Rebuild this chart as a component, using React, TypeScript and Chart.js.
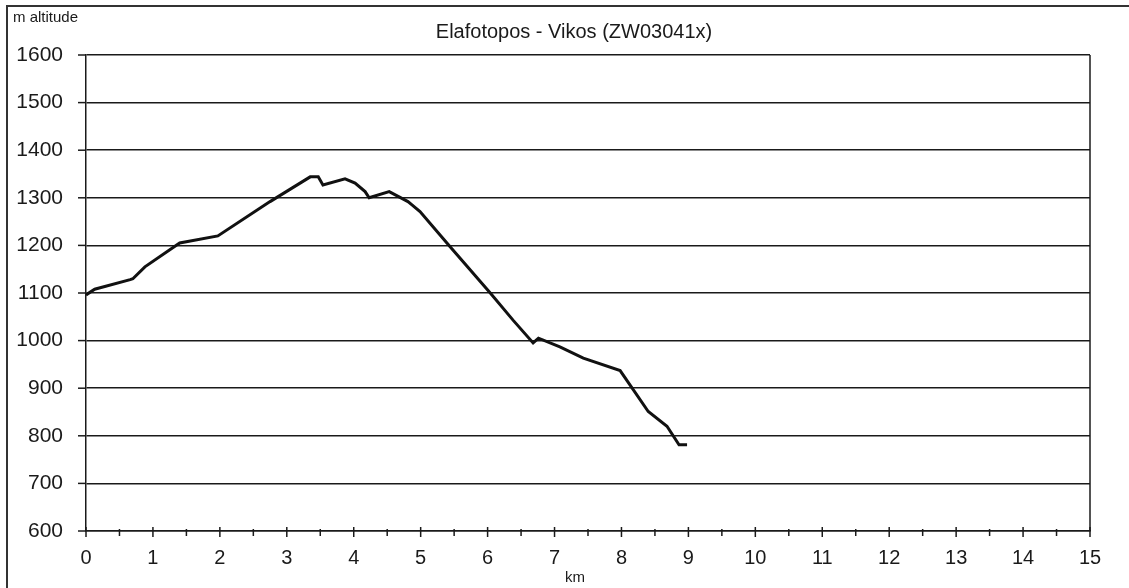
import React, { useEffect, useRef } from "react";
import { Chart, registerables } from "chart.js";

Chart.register(...registerables);

const distanceKm = [0, 0.13, 0.66, 0.7, 0.88, 1.4, 1.97, 2.75, 3.35, 3.47, 3.54, 3.87, 4.02, 4.17, 4.23, 4.53, 4.81, 4.87, 4.99, 5.44, 6.04, 6.38, 6.68, 6.76, 7.08, 7.43, 7.98, 8.4, 8.68, 8.86, 8.98];
const altitudeM = [1096, 1108, 1128, 1130, 1155, 1205, 1220, 1292, 1344, 1344, 1327, 1340, 1331, 1313, 1300, 1313, 1292, 1285, 1271, 1197, 1100, 1043, 995, 1005, 987, 963, 937, 851, 820, 781, 781];
const xTickValues = [0, 1, 2, 3, 4, 5, 6, 7, 8, 9, 10, 11, 12, 13, 14, 15];
const yTickValues = [600, 700, 800, 900, 1000, 1100, 1200, 1300, 1400, 1500, 1600];
const chartTitle = "Elafotopos - Vikos (ZW03041x)";
const yAxisTitle = "m altitude";
const xAxisTitle = "km";

const FONT = '"Liberation Sans", Arial, sans-serif';
const INK = "#1a1a1a";

export default function App() {
  const ref = useRef<HTMLCanvasElement>(null);

  useEffect(() => {
    document.body.style.margin = "0";
    const canvas = ref.current;
    if (!canvas) return;

    const decor = {
      id: "decor",
      beforeDraw(chart: any) {
        const { ctx } = chart;
        ctx.save();
        ctx.fillStyle = "#ffffff";
        ctx.fillRect(0, 0, chart.width, chart.height);
        ctx.restore();
      },
      afterDraw(chart: any) {
        const { ctx, chartArea } = chart;
        const x = chart.scales.x;
        const y = chart.scales.y;
        ctx.save();
        // outer frame
        ctx.strokeStyle = "#333";
        ctx.lineWidth = 2;
        ctx.beginPath();
        ctx.moveTo(7, chart.height);
        ctx.lineTo(7, 6);
        ctx.lineTo(chart.width, 6);
        ctx.stroke();
        // right border of plot
        ctx.strokeStyle = INK;
        ctx.lineWidth = 1.5;
        ctx.beginPath();
        ctx.moveTo(chartArea.right, chartArea.top);
        ctx.lineTo(chartArea.right, chartArea.bottom);
        ctx.stroke();
        // y ticks
        ctx.lineWidth = 1.5;
        yTickValues.forEach((v) => {
          const py = y.getPixelForValue(v);
          ctx.beginPath();
          ctx.moveTo(chartArea.left - 8, py);
          ctx.lineTo(chartArea.left, py);
          ctx.stroke();
        });
        // x ticks, major and minor crossing the axis
        const b = chartArea.bottom;
        for (let v = 0; v <= 15; v += 0.5) {
          const px = x.getPixelForValue(v);
          const major = Number.isInteger(v);
          ctx.beginPath();
          ctx.moveTo(px, major ? b - 4 : b - 2);
          ctx.lineTo(px, major ? b + 6 : b + 5);
          ctx.stroke();
        }
        // texts
        ctx.fillStyle = INK;
        ctx.textBaseline = "middle";
        ctx.textAlign = "center";
        ctx.font = `20px ${FONT}`;
        ctx.fillText(chartTitle, 574, 32);
        ctx.font = `15px ${FONT}`;
        ctx.textAlign = "left";
        ctx.fillText(yAxisTitle, 13, 18);
        ctx.textAlign = "center";
        ctx.fillText(xAxisTitle, 575, 578);
        ctx.restore();
      },
    };

    const chart = new Chart(canvas, {
      type: "line",
      data: {
        datasets: [
          {
            data: distanceKm.map((d, i) => ({ x: d, y: altitudeM[i] })),
            borderColor: "#111",
            borderWidth: 3,
            pointRadius: 0,
            tension: 0,
            fill: false,
          },
        ],
      },
      options: {
        responsive: false,
        animation: false,
        layout: { padding: { left: 0, top: 55, right: 39, bottom: 0 } },
        plugins: { legend: { display: false }, title: { display: false }, tooltip: { enabled: false } },
        scales: {
          x: {
            type: "linear",
            min: 0,
            max: 15,
            afterFit: (s: any) => { s.height = 57; },
            afterBuildTicks: (s: any) => { s.ticks = xTickValues.map((v) => ({ value: v })); },
            ticks: { color: INK, font: { family: FONT, size: 20 }, padding: 15, maxRotation: 0, autoSkip: false, callback: (v: any) => String(v) },
            grid: { display: false, drawTicks: false },
            border: { display: true, color: INK, width: 1.5 },
          },
          y: {
            type: "linear",
            min: 600,
            max: 1600,
            afterFit: (s: any) => { s.width = 86; },
            afterBuildTicks: (s: any) => { s.ticks = yTickValues.map((v) => ({ value: v })); },
            ticks: { color: INK, font: { family: FONT, size: 21 }, padding: 23, autoSkip: false, callback: (v: any) => String(v) },
            grid: { display: true, color: INK, lineWidth: 1.5, drawTicks: false },
            border: { display: true, color: INK, width: 1.5 },
          },
        },
      },
      plugins: [decor],
    });
    return () => chart.destroy();
  }, []);

  return <canvas ref={ref} width={1129} height={588} style={{ display: "block" }} />;
}
